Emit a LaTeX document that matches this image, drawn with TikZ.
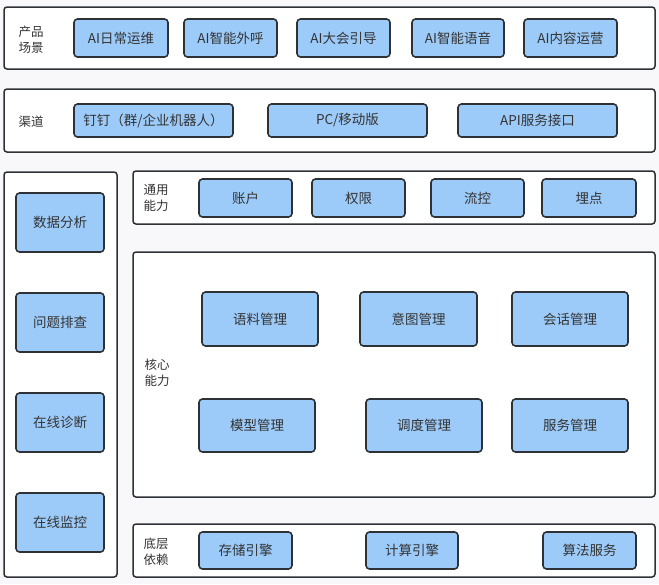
\documentclass[tikz,border=0pt]{standalone}
\usepackage{fontspec}
\setmainfont{Noto Sans CJK SC}
\usetikzlibrary{positioning}
\definecolor{archbg}{HTML}{F8F8FA}
\definecolor{archline}{HTML}{2E3236}
\definecolor{archblue}{HTML}{9DCBF9}
\definecolor{archtext}{HTML}{333333}
\tikzset{
  layer/.style={draw=archline, fill=white, line width=1.5pt,
                rounded corners=3pt, inner sep=0pt},
  cell/.style={draw=archline, fill=archblue, line width=1.6pt,
               rounded corners=3.5pt, inner sep=0pt, text=archtext,
               font=\fontsize{13.5}{16}\selectfont},
  tag/.style={text=archtext, align=left, inner sep=0pt,
              font=\fontsize{12.5}{16}\selectfont}
}

\begin{document}
\begin{tikzpicture}[x=1pt, y=-1pt]
  \fill[archbg] (0,0) rectangle (659,584);
  \useasboundingbox (0,0) rectangle (659,584);
  %% layer frames
  \node[layer, minimum width=651pt, minimum height=62pt]  (scene)  at (329.5,38)    {};
  \node[layer, minimum width=651pt, minimum height=63pt]  (chan)   at (329.5,120.5) {};
  \node[layer, minimum width=113pt, minimum height=405pt] (ops)    at (60.5,374.5)  {};
  \node[layer, minimum width=522pt, minimum height=53pt]  (common) at (394,197.5)   {};
  \node[layer, minimum width=522pt, minimum height=245pt] (core)   at (394,374.5)   {};
  \node[layer, minimum width=522pt, minimum height=53pt]  (base)   at (394,550.5)   {};
  %% layer tags
  \node[tag] (scenetag)  at (31,40)   {产品\\场景};
  \node[tag] (chantag)   at (31,122)  {渠道};
  \node[tag] (commontag) at (156,198) {通用\\能力};
  \node[tag] (coretag)   at (157,373) {核心\\能力};
  \node[tag] (basetag)   at (156,552) {底层\\依赖};
  %% product scenes
  \node[cell, minimum width=94pt, minimum height=38pt] (aiops)   at (121,38)   {AI日常运维};
  \node[cell, minimum width=93pt, minimum height=38pt] (aicall)  at (230.5,38) {AI智能外呼};
  \node[cell, minimum width=93pt, minimum height=38pt] (aiguide) at (343.5,38) {AI大会引导};
  \node[cell, minimum width=92pt, minimum height=38pt] (aivoice) at (458,38)   {AI智能语音};
  \node[cell, minimum width=93pt, minimum height=38pt] (aicont)  at (570.5,38) {AI内容运营};
  %% channels
  \node[cell, minimum width=159pt, minimum height=33pt] (dingtalk) at (153.5,120.5) {钉钉（群/企业机器人）};
  \node[cell, minimum width=159pt, minimum height=33pt] (pcmobile) at (347.5,120.5) {PC/移动版};
  \node[cell, minimum width=159pt, minimum height=33pt] (apiport)  at (537.5,120.5) {API服务接口};
  %% operations column
  \node[cell, minimum width=88pt, minimum height=59pt] (analysis) at (60,222.5) {数据分析};
  \node[cell, minimum width=88pt, minimum height=59pt] (trouble)  at (60,322.5) {问题排查};
  \node[cell, minimum width=88pt, minimum height=59pt] (diagnose) at (60,422.5) {在线诊断};
  \node[cell, minimum width=88pt, minimum height=59pt] (monitor)  at (60,522.5) {在线监控};
  %% common abilities
  \node[cell, minimum width=93pt, minimum height=38pt] (account) at (245.5,198) {账户};
  \node[cell, minimum width=93pt, minimum height=38pt] (perm)    at (358.5,198) {权限};
  \node[cell, minimum width=93pt, minimum height=38pt] (flow)    at (477.5,198) {流控};
  \node[cell, minimum width=94pt, minimum height=38pt] (track)   at (589,198)   {埋点};
  %% core abilities
  \node[cell, minimum width=116pt, minimum height=54pt] (corpus)  at (260,319)     {语料管理};
  \node[cell, minimum width=117pt, minimum height=54pt] (intent)  at (418.5,319)   {意图管理};
  \node[cell, minimum width=116pt, minimum height=54pt] (session) at (570,319)     {会话管理};
  \node[cell, minimum width=116pt, minimum height=53pt] (model)   at (257,425.5)   {模型管理};
  \node[cell, minimum width=116pt, minimum height=53pt] (sched)   at (424,425.5)   {调度管理};
  \node[cell, minimum width=116pt, minimum height=53pt] (service) at (570,425.5)   {服务管理};
  %% base dependencies
  \node[cell, minimum width=93pt, minimum height=37pt] (storage) at (245.5,550.5) {存储引擎};
  \node[cell, minimum width=92pt, minimum height=37pt] (compute) at (412,550.5)   {计算引擎};
  \node[cell, minimum width=93pt, minimum height=37pt] (algo)    at (589.5,550.5) {算法服务};
\end{tikzpicture}
\end{document}
